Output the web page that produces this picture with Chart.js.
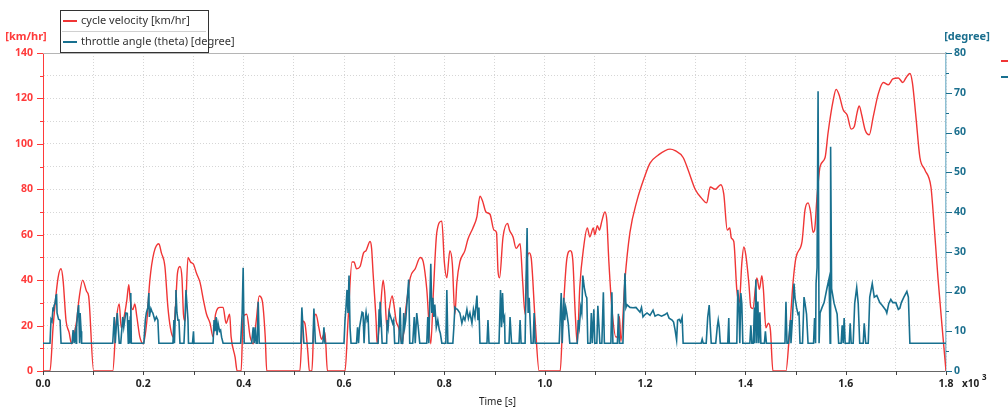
<!DOCTYPE html>
<html>
<head>
<meta charset="utf-8">
<script src="https://cdn.jsdelivr.net/npm/chart.js@4.4.1/dist/chart.umd.min.js"></script>
<style>
  html, body { margin: 0; padding: 0; background: #fff; }
  #wrap { width: 1008px; height: 410px; }
</style>
</head>
<body>
<div id="wrap"><canvas id="cycleChart" width="1008" height="410"></canvas></div>
<script>
// [time s, speed km/hr]
const speedProfile = [
  [0,0],[14,0],[20,19],[30,41],[36,45],[40,40],[46,22],[52,17],[57,12],[60,14],[67,22],[72,32],[79,40],[87,35],[91,33],[101,0],
  [139,0],[146,22],[152,29.5],[156,19],[160,22],[167,31],[171,38],[174,31],[179,27],[183,29.5],[187,24],[193,15],[200,12],
  [207,22],[213,40],[221,52],[231,56],[236,52],[243,46],[249,28],[254,19],[259,15],[264,28],[268,43],[273,46],[277,41],
  [280,25],[283,22],[289,50],[294,48],[300,47],[306,43],[313,39],[320,31],[326,25],[333,21],[339,15],[344,25],[353,28],
  [359,28],[365,21],[372,25],[375,15],[383,6],[387,0],[395,0],[399,24],[406,25],[413,15],[419,12],[425,22],[431,33],
  [437,31],[443,15],[446,0],[512,0],[518,22],[522,21],[528,8],[531,0],[536,0],[540,21],[544,25],[550,19],[555,14],
  [562,17],[567,0],[602,0],[608,22],[616,48],[620,48],[625,45],[632,46],[639,52],[644,53],[652,57],[655,54],[658,43],
  [664,22],[666,12],[672,25],[678,40],[681,35],[686,18],[689,25],[696,33],[699,30],[704,22],[709,19],[716,12],[722,25],
  [732,41],[742,45],[752,50],[758,48],[765,36],[773,12],[778,34],[785,61],[795,66],[800,48],[805,41],[811,53],[816,47],
  [821,25],[825,39],[831,48],[841,53],[847,58],[857,63],[865,68],[871,77],[876,75],[883,70],[891,69],[899,62],[904,61],
  [907,44],[910,41],[917,59],[926,65],[930,62],[937,59],[943,54],[951,56],[956,40],[961,25],[965,49],[969,52],[973,50],
  [981,22],[989,0],[1031,0],[1036,22],[1044,49],[1051,53],[1056,49],[1061,25],[1065,12],[1070,37],[1078,55],[1085,63],
  [1090,59],[1097,63],[1100,60],[1105,64],[1109,62],[1114,66],[1120,70],[1124,66],[1128,48],[1135,25],[1142,15],[1146,15],
  [1149,24],[1152,13],[1160,40],[1170,61],[1184,75],[1200,86],[1210,91.5],[1226,95],[1250,97.7],[1260,97],[1276,94],
  [1286,88.5],[1300,80],[1313,76],[1323,74],[1330,81],[1340,80],[1351,82],[1357,78],[1364,62],[1369,63],[1372,58.6],
  [1377,57],[1383,35.7],[1388,30],[1393,47.5],[1397,54.6],[1401,51],[1407,38.7],[1411,28],[1415,27.5],[1423,41],[1428,36],
  [1433,42],[1436,36],[1441,19],[1446,21],[1450,18],[1455,0],[1481,0],[1487,13.6],[1495,38.7],[1501,50],[1513,57],
  [1519,71],[1525,74],[1530,70],[1535,61],[1538,62],[1543,77],[1549,90],[1559,94],[1565,105],[1575,119],[1581,124],
  [1587,121.5],[1595,115],[1603,112.7],[1611,106.5],[1617,107.5],[1623,114],[1627,116.7],[1632,112.7],[1639,106],
  [1647,104],[1655,112],[1665,122],[1675,127],[1685,126],[1694,128.6],[1705,129],[1714,127],[1720,129],[1728,131],
  [1733,127],[1740,112],[1748,94],[1758,88.5],[1770,81],[1774,71],[1784,41],[1794,15],[1800,0]
];

// [time s, throttle angle degree]
const throttleProfile = [
  [0,7],[14,7],[16,13],[18,12.5],[20,16],[21,15],[22,16.4],[24,17],[26,19],[27,19.4],[28,14.6],[31,13],[34,12.8],[36,7],
  [58,7],[60,10.3],[62,7],[64,9.5],[66,7],[67,11],[69,14.6],[71,16.6],[73,7],[74,14.6],[76,10],[77,7],
  [139,7],[142,13.6],[144,7],[146,11],[148,14.6],[152,7],[155,7],[159,13.6],[161,11],[165,14.6],[168,14.5],[170,7],
  [171,12.8],[173,7],[174,13.6],[175,19.6],[176,7],
  [201,7],[204,12.8],[206,14.6],[209,16],[211,19.6],[212,13.6],[215,15.7],[217,15],[219,14.6],[223,12.8],[226,13.6],
  [229,12.8],[231,7],
  [259,7],[261,12.8],[262,7],[264,16],[265,20.4],[267,14.6],[269,12.8],[271,12.8],[273,7],[281,7],[283,12.8],[285,20.4],
  [289,12.8],[290,7],[298,7],[300,10],[301,7],
  [339,7],[341,12.8],[343,10],[345,13.6],[347,9],[349,12],[352,10],[354,10.3],[356,8.5],[359,7],
  [394,7],[397,14.6],[399,26],[401,7],[416,7],[419,11],[421,7],[423,11],[425,7],[427,7],[429,17.4],[431,7],
  [514,7],[516,16],[520,7],[538,7],[540,15.7],[543,7],[558,7],[560,11],[562,7],
  [600,7],[602,12.8],[604,16],[606,20.4],[608,14.6],[610,24],[612,11],[614,7],
  [625,7],[627,11],[629,7],[631,11],[636,14.8],[638,14.6],[640,7],[642,12.8],[644,14.8],[646,12.8],[648,13.6],[650,7],
  [668,7],[670,15.5],[671,11],[672,17.4],[674,12.8],[676,7],[685,7],[686,12.8],[688,11],[690,14.8],[693,13.6],[697,12],
  [699,12.8],[701,7],
  [709,7],[712,16],[714,7],[717,7],[719,14.6],[721,11],[723,12.8],[729,23],[731,7],[737,7],[740,13.6],[742,7],[745,14.6],
  [748,11],[751,7],
  [765,7],[767,13.6],[769,7],[773,27],[775,14.6],[777,18.4],[779,13.6],[781,16.7],[784,11],[787,12.8],[790,10.3],
  [792,9.5],[795,7],
  [803,7],[805,20.4],[807,7],[817,7],[819,11],[821,16],[823,15.7],[826,15.5],[831,14.6],[835,12],[838,13.6],[841,12.8],
  [845,15.5],[848,13.2],[851,14.6],[855,12],[858,15.5],[861,13.6],[865,19],[867,12.8],[869,16],[871,7],
  [885,7],[887,12.8],[889,7],[909,7],[912,20.4],[914,11],[916,19.6],[918,12.8],[920,13.6],[921,7],[929,7],[931,13.6],
  [934,7],[949,7],[951,12.8],[953,7],[961,7],[963,23],[965,36],[967,14.6],[969,18.4],[973,7],[977,7],[979,14.6],[981,7],
  [1029,7],[1033,19.6],[1035,7],[1038,18.4],[1040,12.8],[1042,16],[1044,14.6],[1047,12],[1050,7],
  [1065,7],[1067,12.8],[1069,11],[1072,16],[1074,14.6],[1076,24],[1079,21],[1082,19],[1084,18.4],[1086,7],
  [1091,7],[1093,14.6],[1095,7],[1098,15.5],[1100,7],[1104,7],[1106,16.4],[1110,7],[1114,7],[1117,19.8],[1119,7],
  [1132,7],[1134,19.8],[1136,7],[1145,7],[1147,14.4],[1149,7],[1156,7],[1160,24.6],[1162,16],[1164,16.7],[1170,16],
  [1176,15.9],[1182,16],[1190,14.8],[1193,16],[1196,13.6],[1200,14.2],[1204,14.6],[1210,14],[1216,15.3],[1220,13.8],
  [1226,14.2],[1233,13.8],[1240,14.2],[1244,14.6],[1248,13.3],[1254,12.8],[1257,12.3],[1260,10.3],[1263,7.8],[1265,12.8],
  [1268,13],[1271,12.3],[1274,13.5],[1276,7],
  [1312,7],[1314,8],[1316,7],[1322,7],[1325,13.5],[1328,16.6],[1330,11.5],[1332,7],[1341,7],[1344,11],[1346,12.8],
  [1348,11],[1350,7],[1365,7],[1367,13.3],[1368,7],
  [1383,7],[1385,20.4],[1387,17],[1389,7],[1391,19.6],[1393,17],[1395,7],[1409,7],[1411,11.5],[1413,7],[1416,7],
  [1418,16],[1419,7],[1421,23],[1423,7],[1425,17.5],[1427,7],[1429,14.8],[1431,7],[1438,7],[1440,10],[1442,7],
  [1479,7],[1481,17.4],[1483,7],[1486,7],[1488,10],[1490,12.8],[1491,7],[1494,13.5],[1497,22],[1499,18.4],[1502,16],
  [1505,14.3],[1507,14.6],[1509,7],[1514,7],[1517,18.6],[1519,17],[1522,14.3],[1525,7],[1536,7],[1538,13.3],[1540,7],
  [1541,22],[1543,26],[1545,70.4],[1547,7],[1549,14.6],[1553,16],[1557,17.2],[1563,21],[1567,23.3],[1569,7],[1570,56.4],
  [1572,20.7],[1577,17],[1583,14.3],[1586,7],[1591,7],[1593,11.5],[1595,7],[1597,13.3],[1599,7],[1607,7],[1609,12],
  [1611,7],[1615,7],[1618,17],[1622,21],[1625,17],[1628,7],[1635,7],[1637,12],[1640,7],[1645,7],[1648,18.6],[1653,22],
  [1657,18.6],[1662,19],[1668,17.2],[1673,16.5],[1680,15.3],[1682,14.6],[1686,17],[1690,18],[1694,17.2],[1700,17.2],
  [1705,15.5],[1708,15.8],[1711,17.2],[1716,18.6],[1722,20],[1725,18.6],[1728,7],[1800,7]
];

const seriesNames = ["cycle velocity [km/hr]", "throttle angle (theta) [degree]"];
const seriesColors = ["#f03535", "#18708f"];
const axisColors = { speed: "#ff3a3a", throttle: "#1b6f8e", throttleLine: "#8fc0d3", time: "#555" };
const FONT = '"Noto Sans", "Open Sans", sans-serif';

// boxed legend, axis unit labels and hand-drawn tick marks
const chartDecor = {
  id: "chartDecor",
  afterDraw(chart) {
    const { ctx, chartArea: a, scales } = chart;
    ctx.save();

    // top frame line
    ctx.strokeStyle = "#b5b5b5";
    ctx.lineWidth = 1;
    ctx.beginPath();
    ctx.moveTo(a.left, a.top + 0.5);
    ctx.lineTo(a.right, a.top + 0.5);
    ctx.stroke();

    // tick marks
    const ys = scales.y;
    ctx.strokeStyle = axisColors.speed;
    ys.ticks.forEach(t => {
      const py = Math.round(ys.getPixelForValue(t.value)) + 0.5;
      const len = t.value % 20 === 0 ? 6 : 3;
      ctx.beginPath(); ctx.moveTo(a.left - len, py); ctx.lineTo(a.left, py); ctx.stroke();
    });
    const yr = scales.y1;
    ctx.strokeStyle = axisColors.throttle;
    yr.ticks.forEach(t => {
      const py = Math.round(yr.getPixelForValue(t.value)) + 0.5;
      const len = t.value % 10 === 0 ? 6 : 3;
      ctx.beginPath(); ctx.moveTo(a.right, py); ctx.lineTo(a.right + len, py); ctx.stroke();
    });
    const xs = scales.x;
    ctx.strokeStyle = "#444";
    xs.ticks.forEach(t => {
      const px = Math.round(xs.getPixelForValue(t.value)) + 0.5;
      ctx.beginPath(); ctx.moveTo(px, a.bottom); ctx.lineTo(px, a.bottom + 4); ctx.stroke();
    });

    // unit labels
    ctx.font = "bold 11px " + FONT;
    ctx.textAlign = "center";
    ctx.textBaseline = "middle";
    ctx.fillStyle = axisColors.speed;
    ctx.fillText("[km/hr]", 26, 37);
    ctx.fillStyle = axisColors.throttle;
    ctx.fillText("[degree]", 967, 37);

    ctx.fillStyle = "#222";
    ctx.font = "10px " + FONT;
    ctx.fillText("Time [s]", (a.left + a.right) / 2 + 3, 402);
    ctx.font = "bold 10px " + FONT;
    ctx.textAlign = "left";
    ctx.fillText("x10", 962, 384);
    ctx.font = "bold 8px " + FONT;
    ctx.fillText("3", 982, 378);

    // legend box
    ctx.fillStyle = "#fff";
    ctx.fillRect(60, 10, 148, 42);
    ctx.strokeStyle = "#333";
    ctx.strokeRect(60.5, 10.5, 148, 42);
    ctx.strokeStyle = "#d0d0d0";
    ctx.beginPath(); ctx.moveTo(62, 31.5); ctx.lineTo(206, 31.5); ctx.stroke();
    ctx.font = "11px " + FONT;
    ctx.textBaseline = "middle";
    seriesNames.forEach((name, i) => {
      const ly = 21 + i * 21;
      ctx.strokeStyle = seriesColors[i];
      ctx.lineWidth = 2;
      ctx.beginPath(); ctx.moveTo(63, ly); ctx.lineTo(77, ly); ctx.stroke();
      ctx.fillStyle = "#333";
      ctx.fillText(name, 81, ly);
    });

    // second legend, cut off at the right edge
    ctx.strokeStyle = seriesColors[0];
    ctx.beginPath(); ctx.moveTo(1001, 61); ctx.lineTo(1010, 61); ctx.stroke();
    ctx.strokeStyle = seriesColors[1];
    ctx.beginPath(); ctx.moveTo(1001, 77); ctx.lineTo(1010, 77); ctx.stroke();

    ctx.restore();
  }
};

const toXY = rows => rows.map(r => ({ x: r[0], y: r[1] }));

new Chart(document.getElementById("cycleChart"), {
  type: "line",
  data: {
    datasets: [
      {
        label: seriesNames[0],
        data: toXY(speedProfile),
        yAxisID: "y",
        borderColor: seriesColors[0],
        borderWidth: 1.4,
        pointRadius: 0,
        cubicInterpolationMode: "monotone",
        order: 2,
      },
      {
        label: seriesNames[1],
        data: toXY(throttleProfile),
        yAxisID: "y1",
        borderColor: seriesColors[1],
        borderWidth: 1.6,
        pointRadius: 0,
        tension: 0,
        order: 1,
      },
    ],
  },
  options: {
    responsive: false,
    animation: false,
    layout: { padding: { top: 53 } },
    plugins: {
      legend: { display: false },
      tooltip: { enabled: false },
    },
    scales: {
      x: {
        type: "linear",
        min: 0,
        max: 1800,
        afterFit: s => { s.height = 39; },
        grid: { color: "#d6d6d6", drawTicks: false },
        border: { color: "#666", width: 1, dash: [1, 2] },
        ticks: {
          stepSize: 100,
          padding: 7,
          color: "#222",
          font: { family: FONT, size: 10.5, weight: "bold" },
          maxRotation: 0,
          autoSkip: false,
          callback: v => (v % 200 === 0 ? (v / 1000).toFixed(1) : ""),
        },
      },
      y: {
        position: "left",
        min: 0,
        max: 140,
        afterFit: s => { s.width = 43; },
        grid: { color: "#d6d6d6", drawTicks: false },
        border: { color: axisColors.speed, width: 1, dash: [1, 2] },
        ticks: {
          stepSize: 10,
          padding: 10,
          color: axisColors.speed,
          font: { family: FONT, size: 10.5, weight: "bold" },
          autoSkip: false,
          callback: v => (v % 20 === 0 ? v : ""),
        },
      },
      y1: {
        position: "right",
        min: 0,
        max: 80,
        afterFit: s => { s.width = 62; },
        grid: { drawOnChartArea: false, drawTicks: false },
        border: { color: axisColors.throttleLine, width: 1.5 },
        ticks: {
          stepSize: 5,
          padding: 8,
          color: axisColors.throttle,
          font: { family: FONT, size: 10.5, weight: "bold" },
          autoSkip: false,
          callback: v => (v % 10 === 0 ? v : ""),
        },
      },
    },
  },
  plugins: [chartDecor],
});
</script>
</body>
</html>
